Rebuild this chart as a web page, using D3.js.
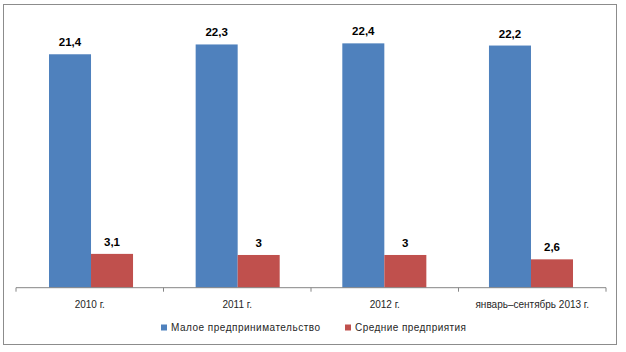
<!DOCTYPE html>
<html>
<head>
<meta charset="utf-8">
<script src="https://cdn.jsdelivr.net/npm/d3@7"></script>
<style>
  body { margin: 0; background: #fff; }
  svg { display: block; }
</style>
</head>
<body>
<div id="chart" style="width:626px;height:352px"></div>
<script>
const categories = ["2010 г.", "2011 г.", "2012 г.", "январь–сентябрь 2013 г."];
const seriesNames = ["Малое предпринимательство", "Средние предприятия"];
const smallBiz = [21.4, 22.3, 22.4, 22.2];
const mediumBiz = [3.1, 3, 3, 2.6];
const colors = ["#4F81BD", "#C0504D"];

const rows = categories.map((c, i) => ({cat: c, values: [smallBiz[i], mediumBiz[i]]}));

const parent = document.getElementById("chart"),
      svg = d3.select(parent).append("svg"),
      svgWidth = 626,
      svgHeight = 352;

svg.attr("width", svgWidth).attr("height", svgHeight);

// outer frame
svg.append("rect")
    .attr("x", 3.5).attr("y", 4.5)
    .attr("width", 613).attr("height", 340)
    .attr("fill", "#fff")
    .attr("stroke", "#8c8c8c")
    .attr("stroke-width", 1);

const plot = {left: 16, right: 606, top: 15, bottom: 287.7};

// category scale (for ticks and labels) and bar scale
const xCat = d3.scaleBand()
    .domain(categories)
    .range([plot.left, plot.right]);

const x0 = d3.scaleBand()
    .domain(categories)
    .range([plot.left, plot.right])
    .paddingInner(0.427)
    .paddingOuter(0.225);

const x1 = d3.scaleBand()
    .domain([0, 1])
    .range([0, x0.bandwidth()]);

const y = d3.scaleLinear()
    .domain([0, 25])
    .range([plot.bottom, plot.top]);

// bars
const groups = svg.append("g")
    .selectAll("g")
    .data(rows)
    .join("g")
    .attr("transform", d => `translate(${x0(d.cat)},0)`);

groups.selectAll("rect")
    .data(d => d.values.map((v, i) => ({v, i})))
    .join("rect")
    .attr("x", d => x1(d.i))
    .attr("y", d => y(d.v))
    .attr("width", x1.bandwidth())
    .attr("height", d => y(0) - y(d.v))
    .attr("fill", d => colors[d.i]);

// value labels
groups.selectAll("text")
    .data(d => d.values.map((v, i) => ({v, i})))
    .join("text")
    .attr("x", d => x1(d.i) + x1.bandwidth() / 2)
    .attr("y", d => y(d.v) - 8)
    .attr("text-anchor", "middle")
    .attr("font-family", "Liberation Sans, Arial, sans-serif")
    .attr("font-weight", "bold")
    .attr("font-size", 11.5)
    .attr("fill", "#000")
    .text(d => String(d.v).replace(".", ","));

// x axis
const axisG = svg.append("g");
axisG.append("line")
    .attr("x1", plot.left).attr("x2", plot.right)
    .attr("y1", y(0)).attr("y2", y(0))
    .attr("stroke", "#868686");

const tickXs = categories.map(c => xCat(c)).concat([xCat.range()[1]]);
axisG.selectAll(".tick")
    .data(tickXs)
    .join("line")
    .attr("x1", d => d).attr("x2", d => d)
    .attr("y1", y(0)).attr("y2", y(0) + 4)
    .attr("stroke", "#868686");

axisG.selectAll(".cat")
    .data(categories)
    .join("text")
    .attr("x", d => xCat(d) + xCat.bandwidth() / 2)
    .attr("y", y(0) + 20)
    .attr("text-anchor", "middle")
    .attr("font-family", "Liberation Sans, Arial, sans-serif")
    .attr("font-size", 10)
    .attr("fill", "#262626")
    .text(d => d);

// legend
const legendItems = [
  {name: seriesNames[0], color: colors[0], x: 161, len: 149},
  {name: seriesNames[1], color: colors[1], x: 345, len: 111}
];
const legend = svg.append("g");
legendItems.forEach(it => {
  legend.append("rect")
      .attr("x", it.x).attr("y", 324.5)
      .attr("width", 6).attr("height", 6)
      .attr("fill", it.color);
  legend.append("text")
      .attr("x", it.x + 10)
      .attr("y", 331)
      .attr("font-family", "Liberation Sans, Arial, sans-serif")
      .attr("font-size", 10)
      .attr("fill", "#262626")
      .attr("textLength", it.len)
      .attr("lengthAdjust", "spacing")
      .text(it.name);
});
</script>
</body>
</html>
